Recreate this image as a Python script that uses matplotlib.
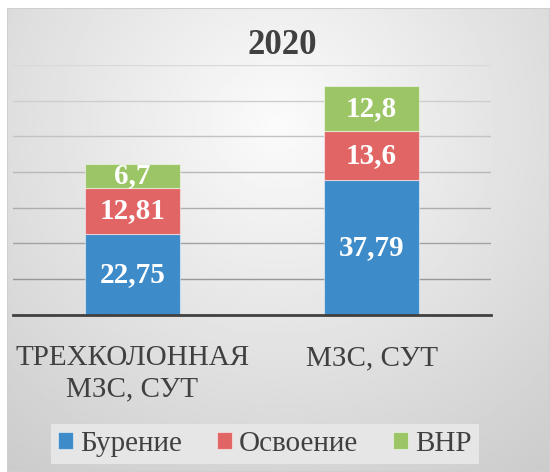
import matplotlib

matplotlib.use("Agg")
import matplotlib.pyplot as plt
import numpy as np
from matplotlib.patches import Rectangle
from matplotlib import font_manager
from matplotlib.font_manager import FontProperties


def serif_file(bold=False):
    for f in font_manager.fontManager.ttflist:
        if f.name == "Liberation Serif" and f.style == "normal":
            w = f.weight if isinstance(f.weight, int) else (700 if "bold" in str(f.weight) else 400)
            if (w >= 600) == bold:
                return f.fname
    return None


REG = serif_file(False)
BOLD = serif_file(True)


def fp(size, bold=False):
    path = BOLD if bold else REG
    if path:
        return FontProperties(fname=path, size=size)
    return FontProperties(family=["Liberation Serif", "DejaVu Serif"], size=size,
                          weight="bold" if bold else "normal")


categories = ["ТРЕХКОЛОННАЯ\nМЗС, СУТ", "МЗС, СУТ"]
series_names = ["Бурение", "Освоение", "ВНР"]
burenie = [22.75, 37.79]
osvoenie = [12.81, 13.6]
vnr = [6.7, 12.8]
label_text = [["22,75", "37,79"], ["12,81", "13,6"], ["6,7", "12,8"]]
colors = ["#3d8bc9", "#e26565", "#9cc566"]

W, H = 550, 472
fig = plt.figure(figsize=(W / 100, H / 100), dpi=100, facecolor="white")

# gradient background of the chart frame
bg = fig.add_axes([7 / W, 0, 1 - 7 / W, 1 - 8 / H])
yy, xx = np.mgrid[0:1:200j, 0:1:200j]
r = np.sqrt(((xx - 0.5) / 0.75) ** 2 + ((yy - 0.25) / 0.85) ** 2)
shade = np.clip(0.985 - 0.17 * r, 0.8, 1.0)
bg.imshow(shade, cmap="gray", vmin=0, vmax=1, extent=[0, 1, 0, 1], aspect="auto", origin="upper")
bg.add_patch(Rectangle((0, 0), 1, 1, fill=False, edgecolor="#cfcfcf", lw=1.5, transform=bg.transAxes))
bg.set_axis_off()

ax = fig.add_axes([13 / W, 1 - 314.7 / H, (491 - 13) / W, (314.7 - 65) / H])
ax.patch.set_alpha(0)
x = np.arange(len(categories))
ax.set_xlim(-0.5, 1.5)
ax.set_ylim(0, 70)

for yv in range(10, 80, 10):
    g = 0.55 + 0.3 * (yv / 70)
    ax.axhline(yv, color=(g, g, g), lw=1, zorder=0)

bottom = np.zeros(len(categories))
for vals, name, col, texts in zip([burenie, osvoenie, vnr], series_names, colors, label_text):
    ax.bar(x, vals, 0.395, bottom=bottom, color=col, label=name,
           edgecolor=(1, 1, 1, 0.5), linewidth=0.8, zorder=2)
    for xi, b, v, t in zip(x, bottom, vals, texts):
        ax.text(xi, b + v / 2, t, ha="center", va="center", color="white",
                fontproperties=fp(21, True), zorder=3)
    bottom += np.array(vals)

for s in ["top", "right", "left"]:
    ax.spines[s].set_visible(False)
ax.spines["bottom"].set_color("#404040")
ax.spines["bottom"].set_linewidth(2)
ax.set_yticks([])
ax.set_xticks(x)
ax.set_xticklabels(categories, color="#404040", linespacing=1.25, fontproperties=fp(21))
ax.tick_params(axis="x", length=0, pad=22)

fig.text(282 / W, 1 - 45 / H, "2020", ha="center", va="center",
         color="#404040", fontproperties=fp(25, True))

leg = fig.legend(loc="center", bbox_to_anchor=(265 / W, 1 - 444 / H), ncol=3,
                 prop=fp(21), frameon=True, fancybox=False,
                 handlelength=0.5, handleheight=0.5, handletextpad=0.25, columnspacing=1.2,
                 borderpad=0.25, labelcolor="#404040")
leg.get_frame().set_facecolor("#e6e6e6")
leg.get_frame().set_edgecolor("none")
leg.get_frame().set_alpha(1)

fig.savefig("out.png", dpi=100, facecolor="white")
